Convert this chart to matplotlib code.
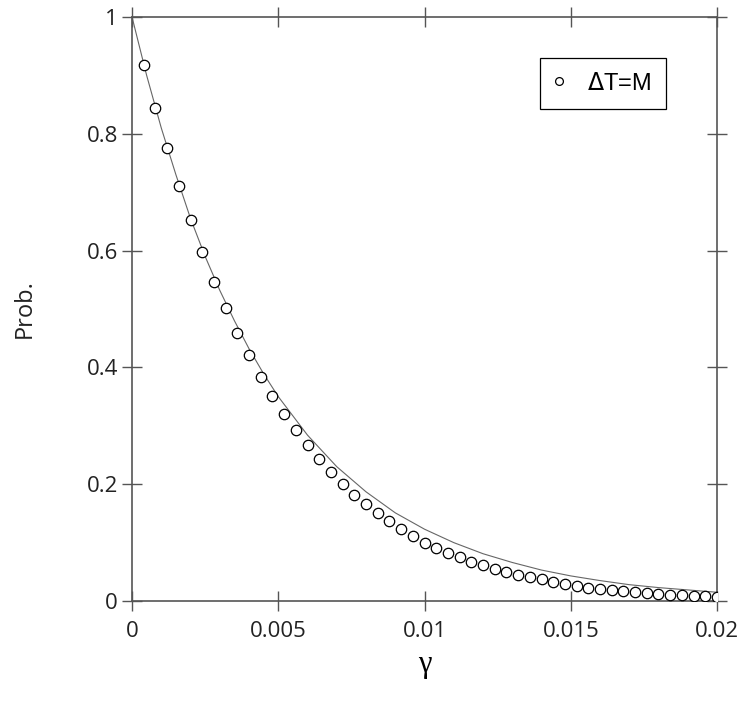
import matplotlib
matplotlib.use("Agg")
import matplotlib.pyplot as plt

# circles (simulation)
gamma_pts = [0.0004 * i for i in range(1, 51)]
prob_pts = [0.918, 0.844, 0.776, 0.711, 0.652, 0.598, 0.547, 0.501, 0.459, 0.421,
            0.384, 0.351, 0.320, 0.292, 0.267, 0.243, 0.221, 0.200, 0.182, 0.166,
            0.150, 0.137, 0.124, 0.112, 0.100, 0.091, 0.083, 0.075, 0.067, 0.062,
            0.055, 0.049, 0.045, 0.041, 0.037, 0.033, 0.029, 0.026, 0.023, 0.021,
            0.019, 0.017, 0.015, 0.013, 0.012, 0.011, 0.010, 0.0086, 0.008, 0.007]

# thin reference curve
gamma_line = [0, 0.0005, 0.001, 0.0015, 0.002, 0.0025, 0.003, 0.0035, 0.004, 0.0045,
              0.005, 0.006, 0.007, 0.008, 0.009, 0.010, 0.011, 0.012, 0.013, 0.014,
              0.015, 0.016, 0.017, 0.018, 0.019, 0.020]
prob_line = [1.0, 0.90, 0.81, 0.73, 0.655, 0.59, 0.532, 0.48, 0.432, 0.389,
             0.35, 0.284, 0.23, 0.187, 0.151, 0.123, 0.10, 0.081, 0.066, 0.053,
             0.043, 0.035, 0.028, 0.023, 0.019, 0.015]

x_ticks = [0, 0.005, 0.01, 0.015, 0.02]
x_labels = ["0", "0.005", "0.01", "0.015", "0.02"]
y_ticks = [0, 0.2, 0.4, 0.6, 0.8, 1]
y_labels = ["0", "0.2", "0.4", "0.6", "0.8", "1"]

axis_grey = "#555555"

fig = plt.figure(figsize=(7.43, 7.09), dpi=100)
ax = fig.add_axes([0.1777, 0.1523, 0.7873, 0.8237])

ax.plot(gamma_line, prob_line, color="#666666", lw=0.8, zorder=2)
ax.plot(gamma_pts, prob_pts, ls="none", marker="o", ms=7.5, mfc="white",
        mec="black", mew=0.9, zorder=3, label=r"$\Delta$T=M")

ax.set_xlim(0, 0.02)
ax.set_ylim(0, 1)
ax.set_xticks(x_ticks)
ax.set_xticklabels(x_labels)
ax.set_yticks(y_ticks)
ax.set_yticklabels(y_labels)

for side in ax.spines.values():
    side.set_color(axis_grey)
    side.set_linewidth(1.2)
ax.tick_params(direction="inout", length=14.5, width=1.0, color=axis_grey,
               top=True, right=True, labelsize=16, pad=3)
ax.tick_params(axis="x", pad=7)
for lab in ax.get_xticklabels() + ax.get_yticklabels():
    lab.set_family("Open Sans")
    lab.set_color("#222222")

ax.set_xlabel("γ", family="Liberation Serif", fontsize=22, labelpad=6)
ax.set_ylabel("Prob.", family="Open Sans", fontsize=17, labelpad=36, color="#222222")

leg = ax.legend(loc="upper left", bbox_to_anchor=(0.697, 0.930), borderaxespad=0,
                fancybox=False, framealpha=1, edgecolor="black", markerscale=0.75,
                handlelength=0.4, handletextpad=1.0, borderpad=0.62,
                prop={"family": "Liberation Sans", "size": 17})
leg.get_frame().set_linewidth(0.9)

fig.savefig("out.png", dpi=100)
